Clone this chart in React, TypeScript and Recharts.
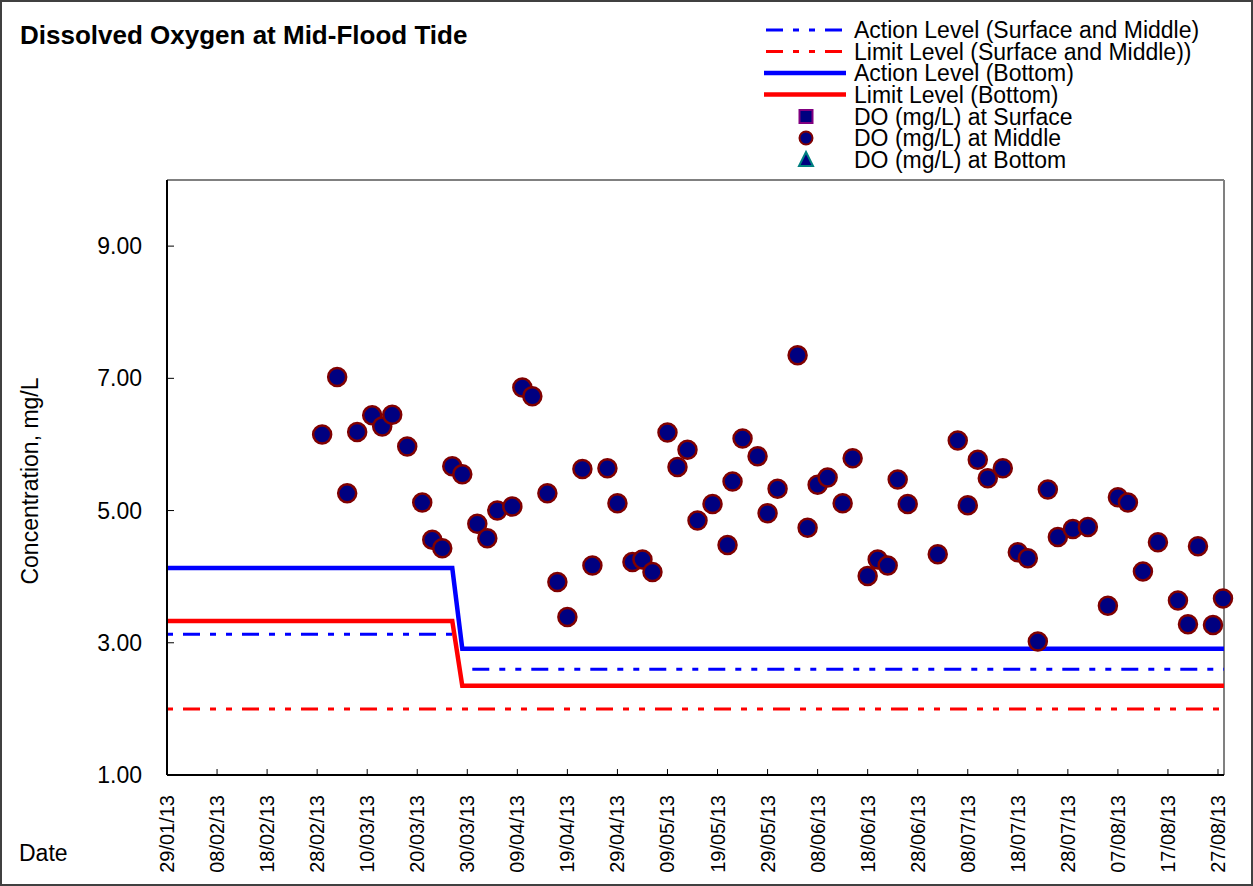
import React from "react";
import { ComposedChart, Line, Scatter, XAxis, YAxis, ReferenceLine } from "recharts";

const W = 1253;
const H = 886;
const FONT = "'Liberation Sans', Arial, sans-serif";

// day 0 = 29/01/13
const START = Date.UTC(2013, 0, 29);
const AXIS_END = 211.2;

const tickDays = [0, 10, 20, 30, 40, 50, 60, 70, 80, 90, 100, 110, 120, 130, 140, 150, 160, 170, 180, 190, 200, 210];
const yTicks = [1, 3, 5, 7, 9];

// DO at middle depth (surface / bottom points sit under these)
const sampleDays = [
  31, 34, 36, 38, 41, 43, 45, 48, 51, 53, 55, 57, 59, 62, 64, 66, 69, 71, 73, 76,
  78, 80, 83, 85, 88, 90, 93, 95, 97, 100, 102, 104, 106, 109, 112, 113, 115, 118, 120, 122,
  126, 128, 130, 132, 135, 137, 140, 142, 144, 146, 148, 154, 158, 160, 162, 164, 167, 170, 172, 174,
  176, 178, 181, 184, 188, 190, 192, 195, 198, 202, 204, 206, 209, 211,
];
const doMiddle = [
  6.15, 7.02, 5.26, 6.19, 6.44, 6.27, 6.45, 5.97, 5.12, 4.56, 4.43, 5.67, 5.55, 4.8, 4.58, 5.0, 5.06, 6.86, 6.73, 5.26,
  3.92, 3.39, 5.63, 4.17, 5.64, 5.11, 4.22, 4.26, 4.07, 6.18, 5.66, 5.92, 4.85, 5.1, 4.48, 5.44, 6.09, 5.82, 4.96, 5.33,
  7.35, 4.74, 5.39, 5.5, 5.11, 5.79, 4.01, 4.26, 4.17, 5.47, 5.1, 4.34, 6.06, 5.08, 5.77, 5.49, 5.64, 4.37, 4.28, 3.02,
  5.32, 4.6, 4.72, 4.75, 3.56, 5.2, 5.12, 4.08, 4.52, 3.64, 3.28, 4.46, 3.27, 3.67,
];

// level lines
const bottomLevelDays = [0, 57, 59, AXIS_END];
const actionBottom = [4.13, 4.13, 2.91, 2.91];
const limitBottom = [3.33, 3.33, 2.35, 2.35];
const actionSurfMidDaysA = [0, 57];
const actionSurfMidA = [3.13, 3.13];
const actionSurfMidDaysB = [61, AXIS_END];
const actionSurfMidB = [2.6, 2.6];
const limitSurfMidDays = [0, AXIS_END];
const limitSurfMid = [2.0, 2.0];

const zip = (days: number[], vals: number[]) => days.map((day, i) => ({ day, v: vals[i] }));

const middleData = zip(sampleDays, doMiddle);

const DASH = "17 10 6 10 6 10";

const fmtDay = (d: number) => {
  const dt = new Date(START + d * 86400000);
  const dd = String(dt.getUTCDate()).padStart(2, "0");
  const mm = String(dt.getUTCMonth() + 1).padStart(2, "0");
  const yy = String(dt.getUTCFullYear() % 100).padStart(2, "0");
  return `${dd}/${mm}/${yy}`;
};

const XTick = ({ x, y, payload }: any) => (
  <g>
    <line x1={x} x2={x} y1={y} y2={y - 6} stroke="#000" strokeWidth={1} />
    <text
      transform={`translate(${x + 7},${y + 20}) rotate(-90)`}
      textAnchor="end"
      fontSize={20}
      fontFamily={FONT}
      fill="#000"
    >
      {fmtDay(payload.value)}
    </text>
  </g>
);

const YTick = ({ x, y, payload }: any) => (
  <g>
    <line x1={x} x2={x + 7} y1={y} y2={y} stroke="#000" strokeWidth={1} />
    <text x={x - 25} y={y + 8} textAnchor="end" fontSize={23} fontFamily={FONT} fill="#000">
      {payload.value.toFixed(2)}
    </text>
  </g>
);

const MiddleDot = (props: any) => (
  <circle cx={props.cx} cy={props.cy} r={9} fill="#000080" stroke="#800000" strokeWidth={2.5} />
);

const legendRows = [
  { label: "Action Level (Surface and Middle)", kind: "dash", color: "#0000ff" },
  { label: "Limit Level (Surface and Middle))", kind: "dash", color: "#ff0000" },
  { label: "Action Level (Bottom)", kind: "solid", color: "#0000ff" },
  { label: "Limit Level (Bottom)", kind: "solid", color: "#ff0000" },
  { label: "DO (mg/L) at Surface", kind: "square", color: "#800080" },
  { label: "DO (mg/L) at Middle", kind: "circle", color: "#800000" },
  { label: "DO (mg/L) at Bottom", kind: "triangle", color: "#008080" },
];

const LegendSymbol = ({ kind, color, y }: { kind: string; color: string; y: number }) => {
  const cx = 806;
  if (kind === "dash")
    return <line x1={764} x2={846} y1={y} y2={y} stroke={color} strokeWidth={3} strokeDasharray={DASH} strokeDashoffset={-2} />;
  if (kind === "solid") return <line x1={764} x2={846} y1={y} y2={y} stroke={color} strokeWidth={4.5} />;
  if (kind === "square")
    return <rect x={cx - 6.5} y={y - 6.5} width={13} height={13} fill="#000080" stroke={color} strokeWidth={2} />;
  if (kind === "circle") return <circle cx={cx} cy={y} r={6.5} fill="#000080" stroke={color} strokeWidth={2} />;
  return (
    <polygon
      points={`${cx},${y - 7.5} ${cx + 7},${y + 6.5} ${cx - 7},${y + 6.5}`}
      fill="#000080"
      stroke={color}
      strokeWidth={2}
    />
  );
};

export default function App() {
  const rowY = [30, 51.5, 73, 94.5, 116.5, 138, 159.5];
  return (
    <div style={{ position: "absolute", left: 0, top: 0, width: W, height: H, background: "#fff" }}>
      <ComposedChart width={W} height={H} margin={{ top: 180, right: 29, bottom: 0, left: 0 }}>
        <XAxis
          type="number"
          dataKey="day"
          domain={[0, AXIS_END]}
          ticks={tickDays}
          interval={0}
          height={111}
          tickLine={false}
          tickSize={0}
          tickMargin={0}
          tick={(p: any) => <XTick {...p} />}
          axisLine={{ stroke: "#000", strokeWidth: 2 }}
        />
        <YAxis
          type="number"
          domain={[1, 10]}
          ticks={yTicks}
          interval={0}
          width={167}
          tickLine={false}
          tickSize={0}
          tickMargin={0}
          tick={(p: any) => <YTick {...p} />}
          axisLine={{ stroke: "#000", strokeWidth: 2 }}
        />
        <ReferenceLine y={10} stroke="#808080" strokeWidth={2} />
        <ReferenceLine x={AXIS_END} stroke="#808080" strokeWidth={2} />
        <Line
          data={zip(limitSurfMidDays, limitSurfMid)}
          dataKey="v"
          type="linear"
          stroke="#ff0000"
          strokeWidth={3}
          strokeDasharray={DASH}
          strokeDashoffset={43}
          dot={false}
          isAnimationActive={false}
        />
        <Line
          data={zip(actionSurfMidDaysA, actionSurfMidA)}
          dataKey="v"
          type="linear"
          stroke="#0000ff"
          strokeWidth={3}
          strokeDasharray={DASH}
          strokeDashoffset={43}
          dot={false}
          isAnimationActive={false}
        />
        <Line
          data={zip(actionSurfMidDaysB, actionSurfMidB)}
          dataKey="v"
          type="linear"
          stroke="#0000ff"
          strokeWidth={3}
          strokeDasharray={DASH}
          dot={false}
          isAnimationActive={false}
        />
        <Line
          data={zip(bottomLevelDays, limitBottom)}
          dataKey="v"
          type="linear"
          stroke="#ff0000"
          strokeWidth={4.5}
          dot={false}
          isAnimationActive={false}
        />
        <Line
          data={zip(bottomLevelDays, actionBottom)}
          dataKey="v"
          type="linear"
          stroke="#0000ff"
          strokeWidth={4.5}
          dot={false}
          isAnimationActive={false}
        />
        <Scatter data={middleData} dataKey="v" shape={(p: any) => <MiddleDot {...p} />} isAnimationActive={false} />
      </ComposedChart>
      <svg
        width={W}
        height={H}
        style={{ position: "absolute", left: 0, top: 0, pointerEvents: "none" }}
        fontFamily={FONT}
      >
        <rect x={1} y={1} width={W - 2} height={H - 2} fill="none" stroke="#404040" strokeWidth={2} />
        <text x={20} y={44} fontSize={26} fontWeight="bold" fill="#000">
          Dissolved Oxygen at Mid-Flood Tide
        </text>
        <text transform="translate(38,481) rotate(-90)" textAnchor="middle" fontSize={23} fill="#000">
          Concentration, mg/L
        </text>
        <text x={19} y={861} fontSize={23} fill="#000">
          Date
        </text>
        {legendRows.map((r, i) => (
          <g key={r.label}>
            <LegendSymbol kind={r.kind} color={r.color} y={rowY[i]} />
            <text x={854} y={rowY[i] + 8} fontSize={23} fill="#000">
              {r.label}
            </text>
          </g>
        ))}
      </svg>
    </div>
  );
}
